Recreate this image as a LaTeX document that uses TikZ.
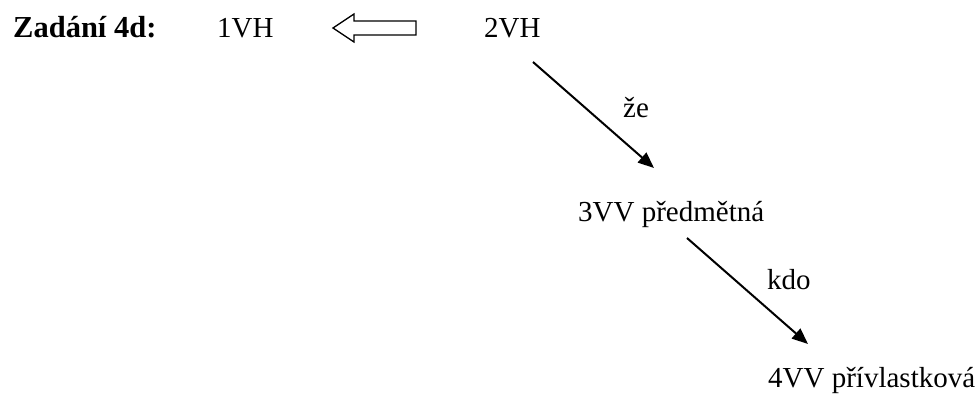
\documentclass[tikz,border=0pt]{standalone}
\usepackage{fontspec}
\setmainfont{Liberation Serif}
\usetikzlibrary{arrows.meta,calc}
\tikzset{
  lbl/.style={anchor=base west, inner sep=0pt, font=\fontsize{29}{34}\selectfont},
  ttl/.style={anchor=base west, inner sep=0pt, font=\fontsize{30.5}{36}\selectfont\bfseries},
  arr/.style={line width=2pt, -{Triangle[length=16pt,width=13pt]}},
  hollow/.style={draw, line width=1.3pt, fill=white}
}
\begin{document}
\begin{tikzpicture}[x=1pt,y=1pt]
\useasboundingbox (0,0) rectangle (980,396);
\node[ttl] (title) at (13,358) {Zadání 4d:};
\node[lbl] (v1) at (217,358) {1VH};
\node[lbl] (v2) at (484,358) {2VH};
\node[lbl] (v3) at (578,174) {3VV předmětná};
\node[lbl] (v4) at (768,8) {4VV přívlastková};
\node[lbl] (ze) at (623,278) {že};
\node[lbl] (kdo) at (767,106) {kdo};
% hollow arrow between 2VH and 1VH
\coordinate (h1) at (333,368);
\draw[hollow] (h1) -- ++(21,14) -- ++(0,-7) -- ++(62,0) -- ++(0,-14) -- ++(-62,0) -- ++(0,-7) -- cycle;
% arrows
\coordinate (a1s) at (533,334);
\coordinate (a1e) at (654,228);
\coordinate (a2s) at (687,158);
\coordinate (a2e) at (808,52);
\draw[arr] (a1s) -- (a1e);
\draw[arr] (a2s) -- (a2e);
\end{tikzpicture}
\end{document}
